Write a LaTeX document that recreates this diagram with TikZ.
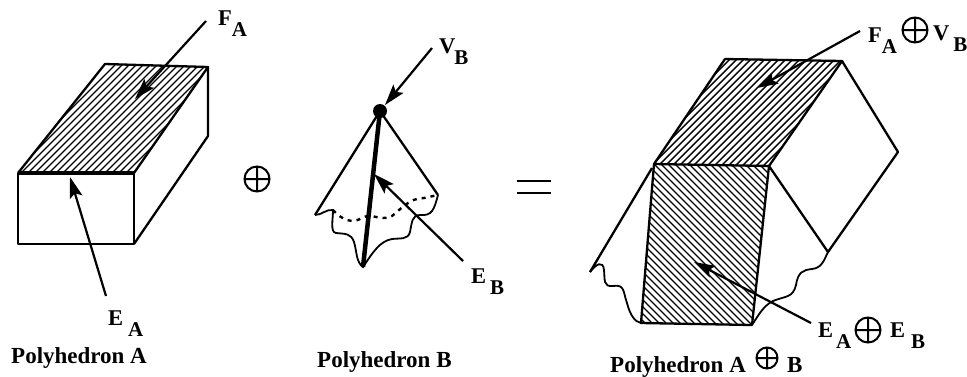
\documentclass[tikz,border=0pt]{standalone}
\usepackage{fontspec}
\setmainfont{Liberation Serif}
\usetikzlibrary{arrows.meta}
\tikzset{
  edgeline/.style={line width=2.3pt,line join=round},
  thickedge/.style={line width=4.5pt},
  wavyline/.style={line width=1.8pt},
  hatchline/.style={line width=1.4pt},
  pointer/.style={line width=2.2pt,-{Stealth[length=21pt,width=13pt,inset=4pt]}},
  lbl/.style={font=\bfseries\fontsize{22.5}{23}\selectfont,inner sep=0pt},
  caption/.style={font=\bfseries\fontsize{23}{24}\selectfont,inner sep=0pt},
}
\newcommand{\subA}[1]{\raisebox{-11pt}{\fontsize{21}{21}\selectfont #1}}
\newcommand{\oplusmark}[3]{\draw[line width=2pt] (#1,#2) circle (#3) (#1-#3,#2) -- (#1+#3,#2) (#1,#2-#3) -- (#1,#2+#3);}
\begin{document}
\begin{tikzpicture}[x=1pt,y=-1pt]
\useasboundingbox (0,0) rectangle (967,376);
% Polyhedron A
\begin{scope}
\clip (105,64) -- (208,67) -- (134,173) -- (18,173) -- cycle;
\foreach \i in {0,...,45} {\draw[hatchline] (\i*7,180) -- ++(150,-150);}
\end{scope}
\draw[edgeline] (18,173) -- (105,64) -- (208,67) -- (134,173);
\draw[edgeline] (18,173) -- (18,244) -- (134,244) -- (134,173);
\draw[edgeline] (208,67) -- (208,136) -- (134,244);
\draw[thickedge] (18,173) -- (134,173);
\coordinate (faTail) at (206,21); \coordinate (faTip) at (135,99);
\coordinate (eaTail) at (106,296); \coordinate (eaTip) at (70,177);
\draw[pointer] (faTail) -- (faTip);
\draw[pointer] (eaTail) -- (eaTip);
\node[lbl,anchor=base west] (fa) at (218,25) {F\subA{A}};
\node[lbl,anchor=base west] (ea) at (108,325) {E\hspace{5pt}\subA{A}};
\node[caption,anchor=base west] (pa) at (11,363) {Polyhedron A};
\oplusmark{257}{179}{12.5}
% Polyhedron B
\coordinate (vb) at (380,111);
\coordinate (bl) at (315,215);
\coordinate (br) at (438,195);
\coordinate (bb) at (363,267);
\draw[edgeline] (bl) -- (vb) -- (br);
\draw[thickedge] (vb) -- (bb);
\fill (vb) circle (7);
\draw[wavyline] (bl) .. controls (322,215) and (326,209) .. (333,210)
  .. controls (333,220) and (330,232) .. (336,233)
  .. controls (345,234) and (351,233) .. (354,242)
  .. controls (357,252) and (356,262) .. (bb)
  .. controls (373,252) and (380,241) .. (392,239)
  .. controls (400,238) and (408,240) .. (410,232)
  .. controls (412,222) and (412,215) .. (420,215)
  .. controls (432,216) and (434,210) .. (br);
\draw[line width=2.4pt,dash pattern=on 4pt off 5pt] (333,210) .. controls (342,220) and (352,224) .. (362,218)
  .. controls (372,212) and (380,222) .. (392,216)
  .. controls (402,208) and (410,198) .. (424,198) -- (br);
\coordinate (vbTail) at (432,48); \coordinate (vbTip) at (385,105);
\coordinate (ebTail) at (463,261); \coordinate (ebTip) at (374,174);
\draw[pointer] (vbTail) -- (vbTip);
\draw[pointer] (ebTail) -- (ebTip);
\node[lbl,anchor=base west] (vl) at (439,53) {V\hspace{-1pt}\subA{B}};
\node[lbl,anchor=base west] (el) at (471,283) {E\hspace{4pt}\subA{B}};
\node[caption,anchor=base west] (pb) at (317,367) {Polyhedron B};
% equals
\draw[line width=2.4pt] (517,181) -- (551,181) (517,193) -- (551,193);
% Polyhedron sum
\begin{scope}
\clip (725,59) -- (842,61) -- (769,166) -- (654,164) -- cycle;
\foreach \i in {0,...,50} {\draw[hatchline] (600+\i*7,175) -- ++(130,-130);}
\end{scope}
\begin{scope}
\clip (654,164) -- (769,166) -- (752,325) -- (641,323) -- cycle;
\foreach \i in {0,...,60} {\draw[hatchline] (440+\i*7,160) -- ++(180,180);}
\end{scope}
\draw[edgeline] (654,164) -- (725,59) -- (842,61) -- (769,166) -- cycle;
\draw[edgeline] (654,164) -- (641,323) -- (752,325) -- (769,166);
\draw[edgeline] (842,61) -- (898,152) -- (828,252) -- (769,166);
\draw[edgeline] (652,168) -- (590,272);
\draw[wavyline] (590,272) .. controls (596,264) and (603,260) .. (604,270)
  .. controls (605,280) and (603,287) .. (613,286)
  .. controls (625,284) and (623,292) .. (627,303)
  .. controls (630,315) and (635,322) .. (641,323);
\draw[wavyline] (752,325) .. controls (758,316) and (763,306) .. (773,301)
  .. controls (785,296) and (793,298) .. (796,285)
  .. controls (798,272) and (803,270) .. (812,269)
  .. controls (822,268) and (824,260) .. (828,252);
\coordinate (fvTail) at (860,31); \coordinate (fvTip) at (757,88);
\coordinate (eeTail) at (811,323); \coordinate (eeTip) at (694,262);
\draw[pointer] (fvTail) -- (fvTip);
\draw[pointer] (eeTail) -- (eeTip);
\node[lbl,anchor=base west] (fl) at (868,42) {F\subA{A}};
\oplusmark{915}{30}{12.5}
\node[lbl,anchor=base west] (vl2) at (933,40) {V\hspace{4pt}\subA{B}};
\node[lbl,anchor=base west] (el2) at (818,337) {E\hspace{3pt}\subA{A}};
\oplusmark{868}{330}{12.5}
\node[lbl,anchor=base west] (el3) at (890,337) {E\hspace{6pt}\subA{B}};
\node[caption,anchor=base west] (ps) at (610,372) {Polyhedron A};
\oplusmark{767}{358}{10.5}
\node[caption,anchor=base west] (ps2) at (787,372) {B};
\end{tikzpicture}
\end{document}
